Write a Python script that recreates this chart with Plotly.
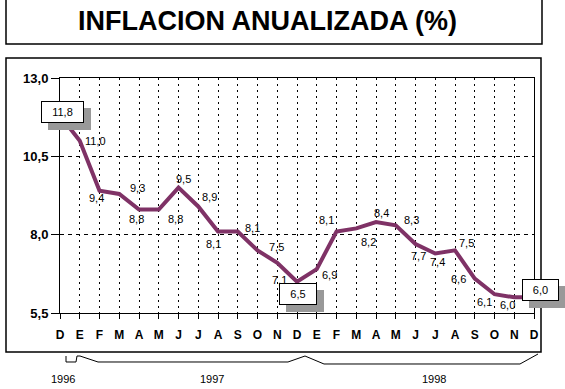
import plotly.graph_objects as go

# ---------------- data ----------------
months = ["D", "E", "F", "M", "A", "M", "J", "J", "A", "S", "O", "N",
          "D", "E", "F", "M", "A", "M", "J", "J", "A", "S", "O", "N", "D"]
inflation = [11.8, 11.0, 9.4, 9.3, 8.8, 8.8, 9.5, 8.9, 8.1, 8.1, 7.5, 7.1,
             6.5, 6.9, 8.1, 8.2, 8.4, 8.3, 7.7, 7.4, 7.5, 6.6, 6.1, 6.0, 6.0]
y_tickvals = [5.5, 8.0, 10.5, 13.0]
y_ticktext = ["5,5", "8,0", "10,5", "13,0"]
years = ["1996", "1997", "1998"]
year_pos = [0.15, 7.7, 18.94]          # centre of each year label (category units)
boxed = [0, 12, 24]                     # points whose labels are boxed

# label offsets (pixels) relative to each point
label_dx = [2.5, 16, -3, 18, -3, 17, 5, 11, -5, 15, 19, 2,
            1, 13, -10, 12, 5, 16, 3, 2, 11, -16, -10, -7, 6.5]
label_dy = [4, 0, -7, 6, -9, -9, 9, 9, -12, 4, 3, -17,
            -12, -6, 12, -14, 9, 5, -12, -9, 7, 0, -8, -8, 7]
box_w = {0: 37, 12: 32, 24: 31}

FONT = "Liberation Sans, Arial, Helvetica, sans-serif"
LINE_COLOR = "#7f3266"

x_idx = list(range(len(months)))

fig = go.Figure()
fig.add_trace(go.Scatter(
    x=x_idx, y=inflation, mode="lines",
    line=dict(color=LINE_COLOR, width=4),
    hoverinfo="skip", showlegend=False,
))

def fmt(v):
    return f"{v:.1f}".replace(".", ",")

annotations = []
for i, v in enumerate(inflation):
    if i in boxed:
        # shadow
        annotations.append(dict(
            x=i, y=v, xref="x", yref="y", text=fmt(v), showarrow=False,
            xshift=label_dx[i] + 7, yshift=label_dy[i] - 7,
            font=dict(family=FONT, size=11, color="#999999"),
            bgcolor="#999999", bordercolor="#999999", borderwidth=1,
            borderpad=2, width=box_w[i], height=16,
        ))
        annotations.append(dict(
            x=i, y=v, xref="x", yref="y", text=fmt(v), showarrow=False,
            xshift=label_dx[i], yshift=label_dy[i],
            font=dict(family=FONT, size=11, color="black"),
            bgcolor="white", bordercolor="black", borderwidth=1,
            borderpad=2, width=box_w[i], height=16,
        ))
    else:
        annotations.append(dict(
            x=i, y=v, xref="x", yref="y", text=fmt(v), showarrow=False,
            xshift=label_dx[i], yshift=label_dy[i],
            font=dict(family=FONT, size=11, color="black"),
        ))

# geometry helpers (plot area: x 60..534 px, y 78..313 px)
PL, PR, PT, PB = 60, 534, 78, 313
def px(xp):
    return (xp - PL) / (PR - PL)
def py(yp):
    return (PB - yp) / (PB - PT)

for name, pos in zip(years, year_pos):
    annotations.append(dict(
        x=pos, y=py(379), xref="x", yref="paper", text=name, showarrow=False,
        font=dict(family=FONT, size=11, color="black"), yanchor="middle",
    ))

annotations.append(dict(
    x=px(267), y=py(21), xref="paper", yref="paper",
    text="<b>INFLACION ANUALIZADA (%)</b>", showarrow=False,
    font=dict(family=FONT, size=27, color="black"),
    xanchor="center", yanchor="middle",
))

shapes = []
# title box
shapes.append(dict(type="rect", xref="paper", yref="paper",
                   x0=px(6), x1=px(542), y0=py(44), y1=py(-1),
                   line=dict(color="black", width=1.5), fillcolor="rgba(0,0,0,0)"))
# chart box
shapes.append(dict(type="rect", xref="paper", yref="paper",
                   x0=px(6), x1=px(541), y0=py(352), y1=py(58),
                   line=dict(color="black", width=1.5), fillcolor="rgba(0,0,0,0)"))
# year brace
pts = [(66, 356), (66, 362), (76, 362), (77, 356), (80, 356), (98, 362),
       (288, 362), (305, 356), (324, 364), (520, 364), (538, 354)]
path = "M " + " L ".join(f"{px(a):.5f},{py(b):.5f}" for a, b in pts)
shapes.append(dict(type="path", xref="paper", yref="paper", path=path,
                   line=dict(color="black", width=1)))

fig.update_layout(
    width=565, height=389,
    margin=dict(l=PL, r=565 - PR, t=PT, b=389 - PB),
    paper_bgcolor="white", plot_bgcolor="white",
    font=dict(family=FONT, color="black"),
    annotations=annotations, shapes=shapes,
    xaxis=dict(
        range=[0, len(months) - 1], tickmode="array", tickvals=x_idx,
        ticktext=[f"<b>{m}</b>" for m in months],
        tickfont=dict(family=FONT, size=12, color="black"),
        ticks="outside", ticklen=5, tickcolor="black", tickwidth=1,
        ticklabelstandoff=6,
        showline=True, linecolor="black", linewidth=1, mirror=True,
        showgrid=True, gridcolor="black", gridwidth=1, griddash="2px,4px",
        zeroline=False, fixedrange=True,
    ),
    yaxis=dict(
        range=[5.5, 13.0], tickmode="array", tickvals=y_tickvals,
        ticktext=[f"<b>{t}</b>" for t in y_ticktext],
        tickfont=dict(family=FONT, size=13, color="black"),
        ticks="outside", ticklen=8, tickcolor="black", tickwidth=1,
        showline=True, linecolor="black", linewidth=1, mirror=True,
        showgrid=True, gridcolor="black", gridwidth=1, griddash="4px,4px",
        zeroline=False, fixedrange=True,
    ),
)

fig.write_html(
    "out.html",
    config={"displayModeBar": False},
    post_script="document.body.style.margin='0px';document.body.style.overflow='hidden';",
)
